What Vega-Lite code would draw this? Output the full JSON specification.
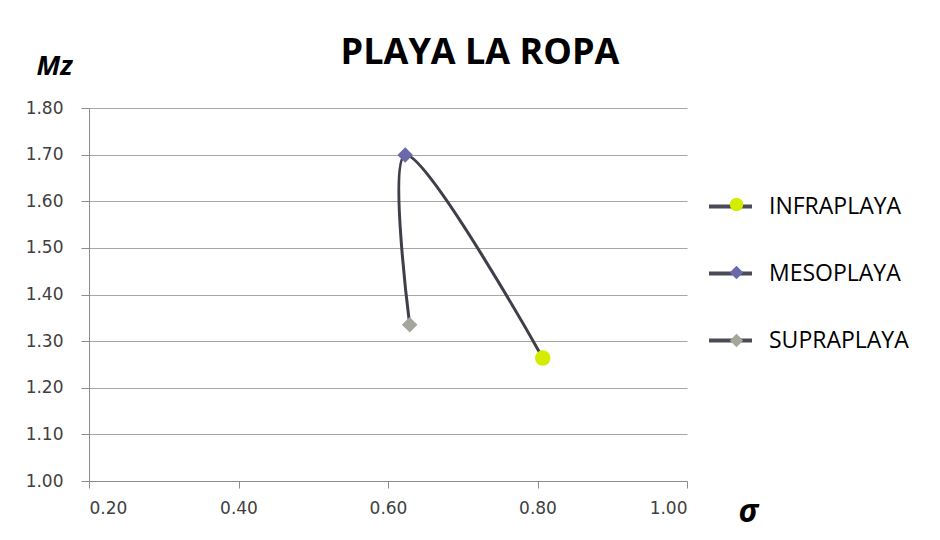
{
  "$schema": "https://vega.github.io/schema/vega-lite/v6.json",
  "autosize": "none",
  "width": 598,
  "height": 373,
  "padding": {"left": 89, "top": 108, "right": 253, "bottom": 59},
  "background": "white",
  "config": {
    "view": {"stroke": null},
    "font": "Open Sans"
  },
  "title": {
    "text": "PLAYA LA ROPA",
    "font": "Open Sans",
    "fontSize": 36,
    "fontWeight": "bold",
    "color": "#000000",
    "anchor": "middle",
    "frame": "group",
    "dx": 92,
    "dy": 48,
    "baseline": "alphabetic",
    "offset": 0
  },
  "data": {
    "values": [
      {"zone": "INFRAPLAYA", "code": "I", "sigma": 0.807, "mz": 1.264, "ord": 1},
      {"zone": "MESOPLAYA", "code": "M", "sigma": 0.623, "mz": 1.699, "ord": 2},
      {"zone": "SUPRAPLAYA", "code": "S", "sigma": 0.629, "mz": 1.335, "ord": 3}
    ]
  },
  "encoding": {
    "x": {
      "field": "sigma", "type": "quantitative",
      "scale": {"domain": [0.2, 1.0], "nice": false, "zero": false},
      "axis": {
        "values": [0.2, 0.4, 0.6, 0.8, 1.0], "format": ".2f", "grid": false,
        "labelFont": "DejaVu Sans", "labelFontSize": 17, "labelColor": "#404040",
        "domainColor": "#8c8c8c", "tickColor": "#8c8c8c",
        "tickSize": 7, "labelPadding": 12,
        "title": "σ", "titleFont": "Open Sans", "titleFontSize": 32, "titleFontWeight": "bold", "titleFontStyle": "italic", "titleColor": "#000000",
        "titleX": 659, "titleY": 30, "titleAlign": "center", "titleBaseline": "middle", "titleAngle": 0
      }
    },
    "y": {
      "field": "mz", "type": "quantitative",
      "scale": {"domain": [1.0, 1.8], "nice": false, "zero": false},
      "axis": {
        "values": [1.0, 1.1, 1.2, 1.3, 1.4, 1.5, 1.6, 1.7, 1.8], "format": ".2f", "grid": true,
        "gridColor": "#a6a6a6", "gridWidth": 1,
        "labelFont": "DejaVu Sans", "labelFontSize": 17, "labelColor": "#404040",
        "domainColor": "#8c8c8c", "tickColor": "#8c8c8c",
        "tickSize": 8, "labelPadding": 18,
        "title": "Mz", "titleFont": "Open Sans", "titleFontSize": 27, "titleFontWeight": "bold", "titleFontStyle": "italic", "titleColor": "#000000",
        "titleX": -35, "titleY": -42, "titleAlign": "center", "titleBaseline": "middle", "titleAngle": 0
      }
    }
  },
  "layer": [
    {
      "mark": {"type": "line", "interpolate": "catmull-rom", "color": "#3f3f4c", "strokeWidth": 3},
      "encoding": {"order": {"field": "ord", "type": "quantitative"}}
    },
    {
      "mark": {"type": "point", "opacity": 0},
      "encoding": {
        "stroke": {
          "field": "zone", "type": "nominal",
          "scale": {"domain": ["INFRAPLAYA", "MESOPLAYA", "SUPRAPLAYA"], "range": ["#4a4a58", "#4a4a58", "#4a4a58"]},
          "legend": {
            "title": null, "orient": "none", "legendX": 618, "legendY": 75,
            "symbolType": "stroke", "symbolSize": 1849, "symbolStrokeWidth": 4, "symbolOpacity": 1,
            "labelFont": "Open Sans", "labelFontSize": 23, "labelColor": "#000000", "labelOffset": 15,
            "rowPadding": 31, "padding": 0, "zindex": 1
          }
        }
      }
    },
    {
      "mark": {"type": "point", "filled": true, "opacity": 1, "size": 240},
      "encoding": {
        "fill": {
          "field": "code", "type": "nominal",
          "scale": {"domain": ["I", "M", "S"], "range": ["#d4ec00", "#6a6aaa", "#a3a69a"]},
          "legend": {
            "title": null, "orient": "none", "legendX": 636, "legendY": 85,
            "symbolSize": 180, "symbolStrokeWidth": 0, "symbolOpacity": 1,
            "labelFontSize": 23, "labelOpacity": 0, "labelExpr": "''", "labelOffset": 18,
            "rowPadding": 44, "padding": 0, "zindex": 2
          }
        },
        "shape": {
          "field": "code", "type": "nominal",
          "scale": {"domain": ["I", "M", "S"], "range": ["circle", "diamond", "diamond"]}
        }
      }
    }
  ]
}
